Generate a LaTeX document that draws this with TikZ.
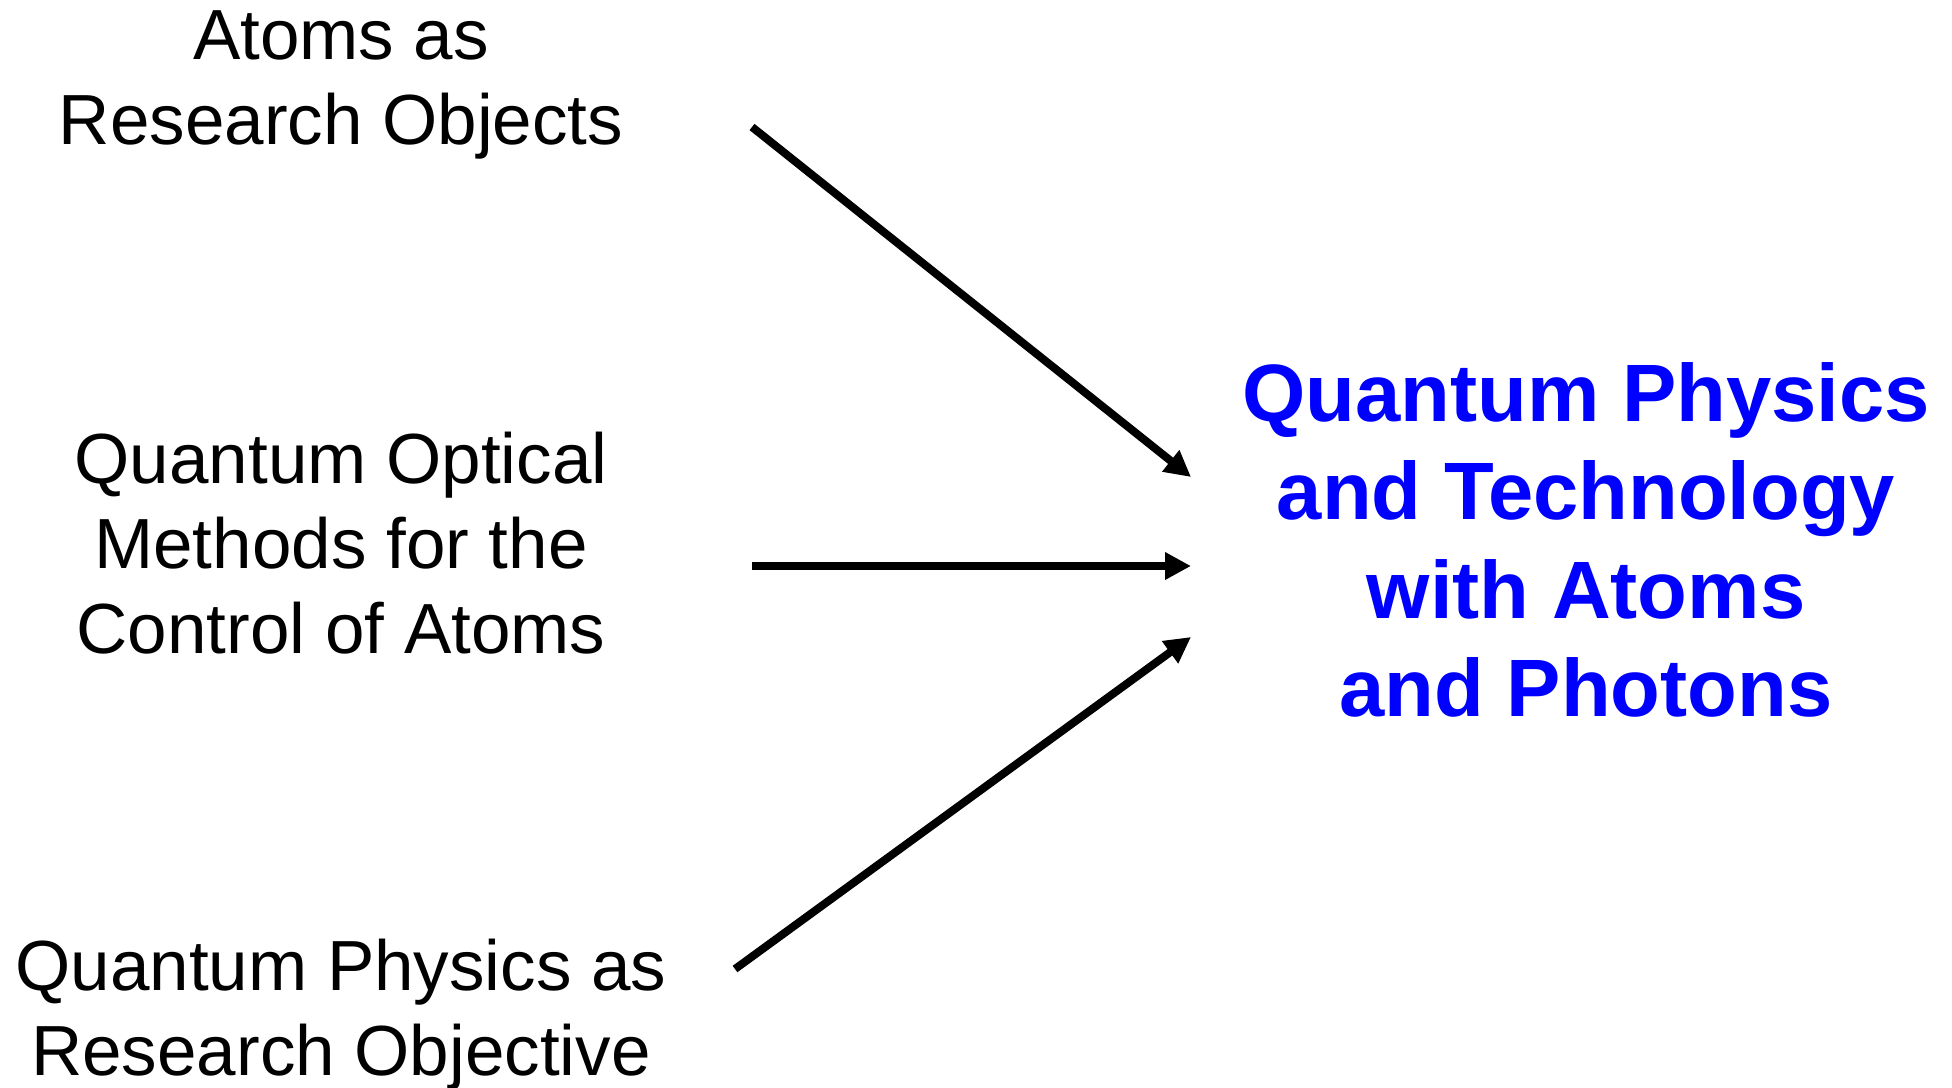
\documentclass[tikz,border=0pt]{standalone}
\usepackage{fontspec}
\setmainfont{Liberation Sans}
\usetikzlibrary{arrows.meta, positioning}
\definecolor{goalblue}{RGB}{0, 0, 255}

\begin{document}
\begin{tikzpicture}[x=0.5pt, y=-0.5pt,
    src/.style={align=center, inner sep=0pt,
                font=\fontsize{35.5}{42.5}\selectfont},
    goal/.style={align=center, inner sep=0pt, text=goalblue,
                 font=\fontsize{40.7}{49.2}\selectfont\bfseries},
    arr/.style={-{Triangle[length=13pt, width=13pt]}, line width=4pt}
  ]
    \useasboundingbox (0,0) rectangle (1952,1087);
    \node[src, anchor=north] (optics) at (341,432)
      {Quantum Optical\\Methods for the\\Control of Atoms};
    \node[src, above=136pt of optics] (atoms) {Atoms as\\Research Objects};
    \node[src, below=142pt of optics] (qphys) {Quantum Physics as\\Research Objective};
    \node[goal, anchor=north] (qtech) at (1586,362)
      {Quantum Physics\\and Technology\\with Atoms\\and Photons};
    % arrow ends
    \coordinate (atoms-out) at (752,127);
    \coordinate (optics-out) at (752,566);
    \coordinate (qphys-out) at (735,969);
    \coordinate (qtech-in1) at (1191,477);
    \coordinate (qtech-in2) at (1191,566);
    \coordinate (qtech-in3) at (1191,637);
    \draw[arr] (atoms-out) -- (qtech-in1);
    \draw[arr] (optics-out) -- (qtech-in2);
    \draw[arr] (qphys-out) -- (qtech-in3);
  \end{tikzpicture}
\end{document}
